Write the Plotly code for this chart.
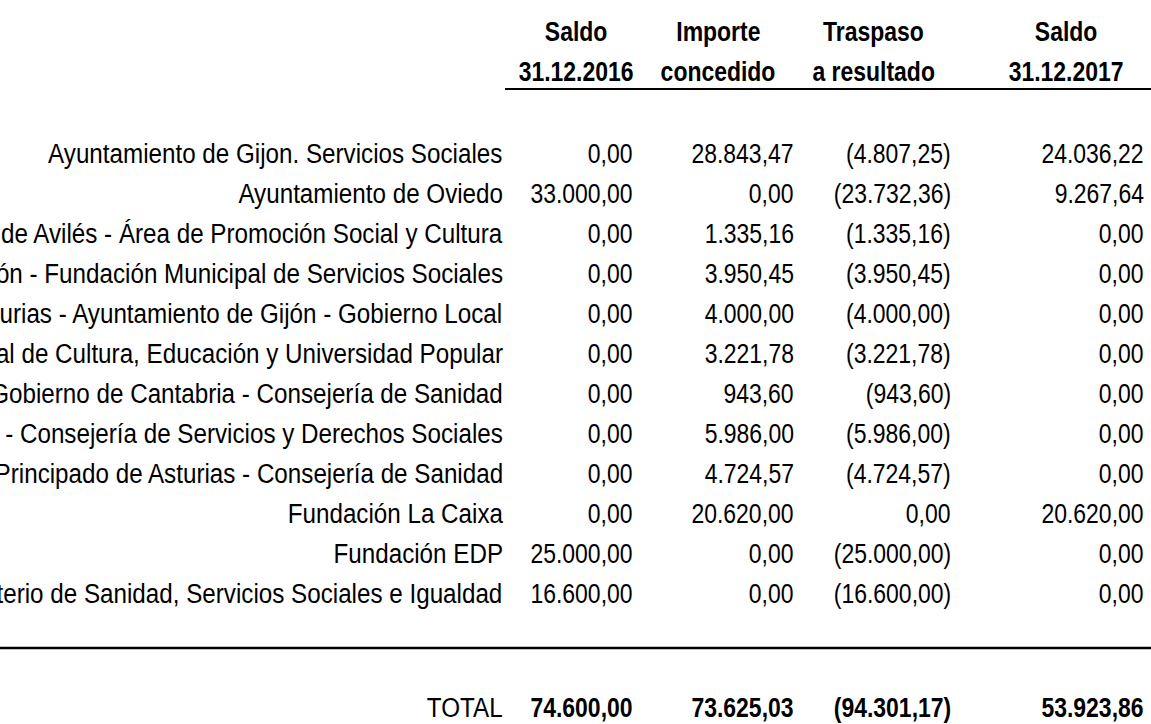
import json
import plotly.graph_objects as go

# ---- data ----
headers_top = ["Saldo", "Importe", "Traspaso", "Saldo"]
headers_bottom = ["31.12.2016", "concedido", "a resultado", "31.12.2017"]

entities = [
    "Ayuntamiento de Gijon. Servicios Sociales",
    "Ayuntamiento de Oviedo",
    "Ayuntamiento de Avilés - Área de Promoción Social y Cultura",
    "Ayuntamiento de Gijón - Fundación Municipal de Servicios Sociales",
    "Principado de Asturias - Ayuntamiento de Gijón - Gobierno Local",
    "Ayuntamiento de Gijón - Fundación Municipal de Cultura, Educación y Universidad Popular",
    "Gobierno de Cantabria - Consejería de Sanidad",
    "Principado de Asturias - Consejería de Servicios y Derechos Sociales",
    "Principado de Asturias - Consejería de Sanidad",
    "Fundación La Caixa",
    "Fundación EDP",
    "Ministerio de Sanidad, Servicios Sociales e Igualdad",
]
saldo_2016 = [0.00, 33000.00, 0.00, 0.00, 0.00, 0.00, 0.00, 0.00, 0.00, 0.00, 25000.00, 16600.00]
importe_concedido = [28843.47, 0.00, 1335.16, 3950.45, 4000.00, 3221.78, 943.60, 5986.00, 4724.57, 20620.00, 0.00, 0.00]
traspaso_resultado = [-4807.25, -23732.36, -1335.16, -3950.45, -4000.00, -3221.78, -943.60, -5986.00, -4724.57, 0.00, -25000.00, -16600.00]
saldo_2017 = [24036.22, 9267.64, 0.00, 0.00, 0.00, 0.00, 0.00, 0.00, 0.00, 20620.00, 0.00, 0.00]
total_label = "TOTAL"
totals = [74600.00, 73625.03, -94301.17, 53923.86]


def fmt(v):
    s = f"{abs(v):,.2f}".replace(",", "X").replace(".", ",").replace("X", ".")
    return f"({s})" if v < 0 else s


FONT = "Liberation Sans Narrow, Arial Narrow, Liberation Sans, Arial, sans-serif"
FS = 28
W, H = 1151, 724

# layout (pixel-space axes)
label_right = 505
col_right = [635, 796, 953, 1146]
head_center = [576, 718, 873, 1066]
row_y0, row_dy = 153, 40
head_y = [31, 71]
underline_y = 89
sep_y = 648
total_y = 707

columns = [saldo_2016, importe_concedido, traspaso_resultado, saldo_2017]

fig = go.Figure()
fig.add_trace(go.Scatter(x=[0, W], y=[0, H], mode="markers", marker=dict(opacity=0), hoverinfo="skip", showlegend=False))

ann = []
for j in range(4):
    ann.append(dict(x=head_center[j], y=head_y[0], text=f"<b>{headers_top[j]}</b>", xanchor="center", yanchor="middle"))
    ann.append(dict(x=head_center[j], y=head_y[1], text=f"<b>{headers_bottom[j]}</b>", xanchor="center", yanchor="middle"))
n_head = len(ann)

label_idx = []
for i, name in enumerate(entities):
    y = row_y0 + row_dy * i
    label_idx.append(len(ann))
    ann.append(dict(x=label_right, y=y, text=name, xanchor="right", yanchor="middle"))
    for j, col in enumerate(columns):
        ann.append(dict(x=col_right[j], y=y, text=fmt(col[i]), xanchor="right", yanchor="middle"))

label_idx.append(len(ann))
ann.append(dict(x=label_right, y=total_y, text=total_label, xanchor="right", yanchor="middle"))
for j, v in enumerate(totals):
    ann.append(dict(x=col_right[j], y=total_y, text=f"<b>{fmt(v)}</b>", xanchor="right", yanchor="middle"))

for a in ann:
    a.update(xref="x", yref="y", showarrow=False, font=dict(family=FONT, size=FS, color="black"))

shapes = [
    dict(type="line", xref="x", yref="y", x0=505, x1=W, y0=underline_y, y1=underline_y, line=dict(color="black", width=2)),
    dict(type="line", xref="x", yref="y", x0=0, x1=W, y0=sep_y, y1=sep_y, line=dict(color="black", width=2.5)),
]

fig.update_layout(
    width=W, height=H, margin=dict(l=0, r=0, t=0, b=0),
    paper_bgcolor="white", plot_bgcolor="white",
    xaxis=dict(range=[0, W], visible=False, fixedrange=True),
    yaxis=dict(range=[H, 0], visible=False, fixedrange=True),
    annotations=ann, shapes=shapes, showlegend=False,
)

# condensed look (narrow typeface) + no page margin
post = """
document.body.style.margin='0';
document.body.style.overflow='hidden';
var LBL=LABELS;
var gd=document.getElementById('{plot_id}');
gd.querySelectorAll('g.annotation').forEach(function(g){
  var i=+g.getAttribute('data-index');
  var t=g.querySelector('text');
  if(!t) return;
  t.style.transformBox='fill-box';
  t.style.transformOrigin=(i<NHEAD)?'center center':'right center';
  t.style.transform='scaleX('+(LBL.indexOf(i)>=0?0.865:0.82)+')';
});
""".replace("NHEAD", str(n_head)).replace("LABELS", json.dumps(label_idx))
fig.write_html("out.html", post_script=post, config={"displayModeBar": False})
